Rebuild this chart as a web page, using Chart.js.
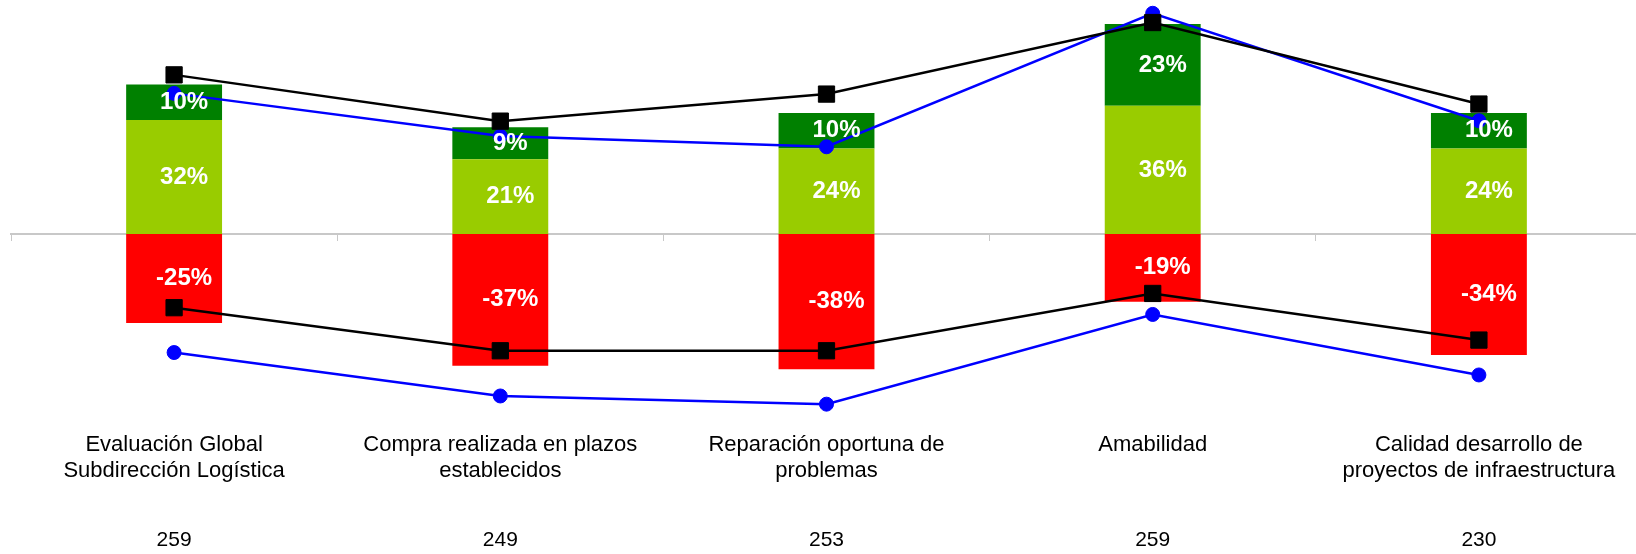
<!DOCTYPE html>
<html>
<head>
<meta charset="utf-8">
<script src="https://cdn.jsdelivr.net/npm/chart.js@4/dist/chart.umd.min.js"></script>
<style>
  html, body { margin: 0; padding: 0; background: #ffffff; overflow: hidden; }
  #wrap { width: 1642px; height: 554px; }
</style>
</head>
<body>
<div id="wrap"><canvas id="chart" width="1642" height="554"></canvas></div>
<script>
// Survey dimensions (two-line captions) and number of respondents per dimension
const categories = [
  ['Evaluación Global', 'Subdirección Logística'],
  ['Compra realizada en plazos', 'establecidos'],
  ['Reparación oportuna de', 'problemas'],
  ['Amabilidad'],
  ['Calidad desarrollo de', 'proyectos de infraestructura']
];
const respondents = ['259', '249', '253', '259', '230'];

// Stacked bar shares (%)
const satisfied = [32, 21, 24, 36, 24];
const verySatisfied = [10, 9, 10, 23, 10];
const dissatisfied = [-25, -37, -38, -19, -34];

// Reference lines (%): black squares and blue circles, upper and lower
const benchmarkPositive = [44.7, 31.7, 39.3, 59.4, 36.5];
const benchmarkNegative = [-20.7, -32.8, -32.8, -16.7, -29.8];
const previousPositive = [39.5, 27.5, 24.5, 62, 31.8];
const previousNegative = [-33.3, -45.5, -47.8, -22.6, -39.6];

const FONT = '"Liberation Sans", Arial, Helvetica, sans-serif';

// White percentage labels centred in each bar segment
const segmentLabels = {
  id: 'segmentLabels',
  afterDatasetsDraw(chart) {
    const ctx = chart.ctx;
    ctx.save();
    ctx.font = 'bold 24px ' + FONT;
    ctx.fillStyle = '#ffffff';
    ctx.textAlign = 'center';
    ctx.textBaseline = 'middle';
    chart.data.datasets.forEach((ds, i) => {
      if (ds.type !== 'bar') return;
      chart.getDatasetMeta(i).data.forEach((bar, j) => {
        ctx.fillText(ds.data[j] + '%', bar.x + 10, (bar.y + bar.base) / 2);
      });
    });
    ctx.restore();
  }
};

function lineSet(label, data, color, style, radius, order) {
  return {
    type: 'line', label, data, order,
    stack: label,
    borderColor: color, backgroundColor: color,
    borderWidth: 2.5,
    pointStyle: style, pointRadius: radius, pointHoverRadius: radius,
    pointBorderWidth: 1, pointBorderColor: color, pointBackgroundColor: color,
    tension: 0, fill: false, clip: false
  };
}

new Chart(document.getElementById('chart'), {
  type: 'bar',
  data: {
    labels: categories,
    datasets: [
      lineSet('Referencia positiva', benchmarkPositive, '#000000', 'rect', 11.5, 0),
      lineSet('Referencia negativa', benchmarkNegative, '#000000', 'rect', 11.5, 0),
      lineSet('Anterior positiva', previousPositive, '#0000ff', 'circle', 7, 1),
      lineSet('Anterior negativa', previousNegative, '#0000ff', 'circle', 7, 1),
      { type: 'bar', label: 'Satisfecho', data: satisfied, backgroundColor: '#99cc00', stack: 'bars', order: 2 },
      { type: 'bar', label: 'Muy satisfecho', data: verySatisfied, backgroundColor: '#008000', stack: 'bars', order: 2 },
      { type: 'bar', label: 'Insatisfecho', data: dissatisfied, backgroundColor: '#ff0000', stack: 'bars', order: 2 }
    ]
  },
  options: {
    responsive: false,
    animation: false,
    events: [],
    barPercentage: 0.294,
    categoryPercentage: 1,
    layout: { autoPadding: false, padding: { left: 11, right: 0, top: 0, bottom: 0 } },
    plugins: { legend: { display: false }, tooltip: { enabled: false } },
    scales: {
      x: {
        stacked: true,
        offset: true,
        grid: { display: false, drawTicks: false },
        border: { display: false },
        ticks: { font: { family: FONT, size: 22 }, color: '#000000', padding: 0, maxRotation: 0, autoSkip: false },
        afterFit(scale) { scale.height = 96.5; }
      },
      counts: {
        axis: 'x',
        type: 'category',
        labels: respondents,
        position: 'bottom',
        weight: 1,
        offset: true,
        grid: { display: false, drawTicks: false },
        border: { display: false },
        ticks: { font: { family: FONT, size: 21 }, color: '#000000', padding: 0, maxRotation: 0, autoSkip: false },
        afterFit(scale) { scale.height = 26; }
      },
      zero: {
        axis: 'x',
        type: 'category',
        position: { y: 0 },
        offset: true,
        z: 1,
        grid: { display: true, drawOnChartArea: false, drawTicks: true, tickLength: 6, color: '#c8c8c8', lineWidth: 1, offset: true },
        border: { display: true, color: '#c8c8c8', width: 2 },
        ticks: { display: false }
      },
      y: { stacked: true, display: false, min: -55.48, max: 65.73 }
    }
  },
  plugins: [segmentLabels]
});
</script>
</body>
</html>
